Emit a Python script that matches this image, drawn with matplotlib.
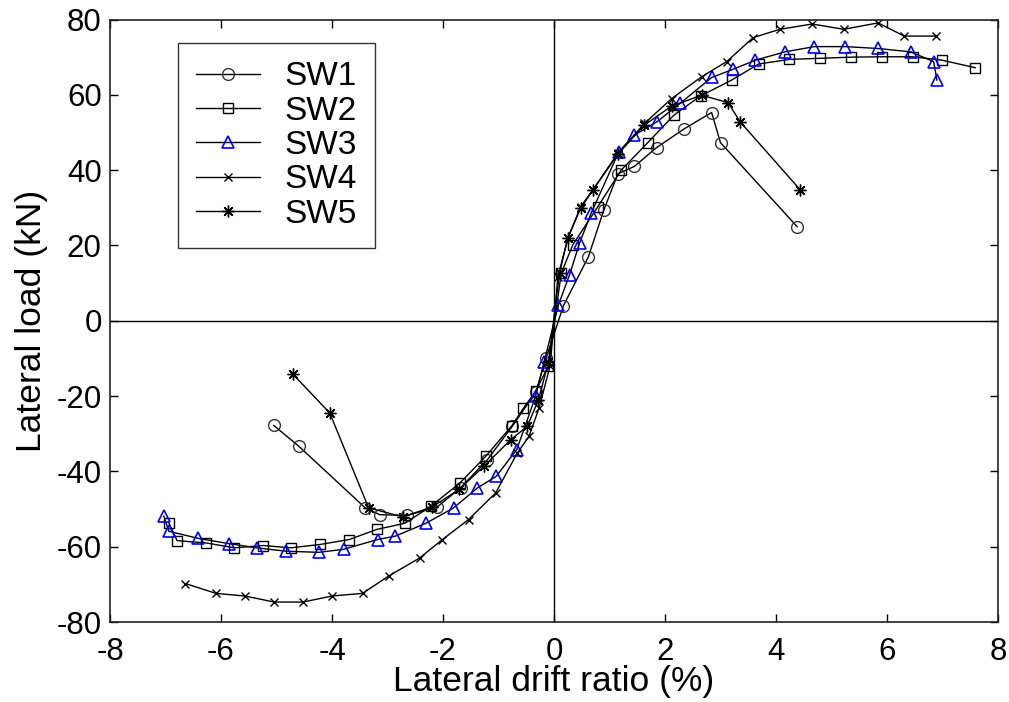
import matplotlib.pyplot as plt

plt.rcParams['font.family'] = ['Liberation Sans', 'DejaVu Sans']
plt.rcParams['axes.unicode_minus'] = False

# Specimen envelopes: lateral drift ratio (%) vs lateral load (kN)
sw1_x = [-5.05, -4.6, -3.4, -3.14, -2.65, -2.1, -1.68, -1.2, -0.75, -0.33, -0.14,
         0.17, 0.62, 0.9, 1.15, 1.45, 1.85, 2.35, 2.84, 3.0, 4.38]
sw1_y = [-27.8, -33.3, -49.7, -51.5, -51.7, -49.4, -44.3, -36.9, -28, -19, -9.8,
         4, 17, 29.5, 39, 41, 46, 51, 55.3, 47.3, 25]

sw2_x = [-6.94, -6.79, -6.27, -5.76, -5.24, -4.74, -4.21, -3.69, -3.19, -2.69, -2.22,
         -1.69, -1.23, -0.76, -0.55, -0.33, -0.1, 0.13, 0.34, 0.79, 1.21, 1.69, 2.16,
         2.64, 3.2, 3.69, 4.24, 4.8, 5.35, 5.91, 6.46, 6.99, 7.59]
sw2_y = [-53.7, -58.4, -59, -60.3, -59.7, -60.3, -59.4, -58.1, -55.4, -53.8, -49.3,
         -43, -36, -27.9, -23.2, -18.7, -12, 12.6, 20.2, 30.3, 40, 47.3, 54.6,
         59.7, 63.9, 68.2, 69.4, 69.7, 70, 70.1, 70.1, 69.2, 67.2]

sw3_x = [-7.03, -6.94, -6.41, -5.85, -5.36, -4.83, -4.24, -3.79, -3.18, -2.86, -2.31,
         -1.81, -1.38, -1.04, -0.67, -0.33, -0.18, 0.08, 0.28, 0.46, 0.67, 1.17, 1.45,
         1.86, 2.27, 2.84, 3.23, 3.63, 4.16, 4.69, 5.25, 5.84, 6.43, 6.84, 6.9]
sw3_y = [-51.9, -55.9, -57.8, -59.2, -60.3, -61.2, -61.5, -60.7, -58.1, -57.2, -53.8,
         -49.7, -44.4, -41.3, -34.2, -20, -11, 4.2, 12.2, 20.6, 28.6, 44.9, 49.3,
         52.9, 57.7, 64.6, 66.8, 69.2, 71.4, 72.8, 72.8, 72.3, 71.4, 68.8, 63.9]

sw4_x = [-6.64, -6.09, -5.57, -5.04, -4.52, -4.0, -3.45, -2.98, -2.42, -2.01, -1.54,
         -1.05, -0.66, -0.45, -0.27, -0.07, 0.07, 0.25, 0.48, 0.7, 1.15, 1.63, 2.12,
         2.66, 3.11, 3.59, 4.07, 4.65, 5.22, 5.84, 6.31, 6.89]
sw4_y = [-69.8, -72.4, -73.1, -74.7, -74.7, -73.1, -72.4, -67.8, -63, -58.1, -52.8,
         -45.7, -35.1, -30.7, -23.2, -12, 11.7, 21.9, 30.3, 34.7, 44.5, 52.4, 59,
         64.8, 68.8, 75.2, 77.4, 78.8, 77.4, 79.1, 75.6, 75.6]

sw5_x = [-4.71, -4.04, -3.34, -2.72, -2.19, -1.71, -1.26, -0.78, -0.48, -0.28, -0.1,
         0.1, 0.25, 0.48, 0.7, 1.15, 1.63, 2.12, 2.66, 3.14, 3.35, 4.44]
sw5_y = [-14.1, -24.5, -49.7, -52.1, -49.4, -44.8, -38.6, -31.6, -28, -21, -11,
         12.7, 22, 29.9, 34.7, 44.2, 52, 57, 59.9, 57.9, 52.9, 34.7]

labels = ['SW1', 'SW2', 'SW3', 'SW4', 'SW5']

fig = plt.figure(figsize=(10.09, 7.02), dpi=100)
ax = fig.add_axes([110 / 1009, 1 - 622 / 702, 888 / 1009, 602.5 / 702])

ax.axhline(0, color='black', lw=1.0, zorder=1)
ax.axvline(0, color='black', lw=1.0, zorder=1)

ax.plot(sw1_x, sw1_y, '-', color='black', lw=1.0, marker='o', ms=8.5,
        mfc='none', mec='#333333', mew=1.0, label=labels[0])
ax.plot(sw2_x, sw2_y, '-', color='black', lw=1.0, marker='s', ms=7.5,
        mfc='none', mec='black', mew=1.0, label=labels[1])
ax.plot(sw3_x, sw3_y, '-', color='black', lw=1.0, marker='^', ms=8.5,
        mfc='none', mec='blue', mew=1.2, label=labels[2])
ax.plot(sw4_x, sw4_y, '-', color='black', lw=1.0, marker='x', ms=5.5,
        mec='black', mew=1.0, label=labels[3])
ax.plot(sw5_x, sw5_y, '-', color='black', lw=1.0, marker=(8, 2, 0), ms=8.5,
        mec='black', mew=1.0, label=labels[4])

ax.set_xlim(-8, 8)
ax.set_ylim(-80, 80)
ax.set_xticks(range(-8, 9, 2))
ax.set_yticks(range(-80, 81, 20))
ax.tick_params(direction='in', length=6, width=1, labelsize=22.5, top=True, right=True)
ax.tick_params(axis='x', pad=11)
ax.tick_params(axis='y', pad=6)
for s in ax.spines.values():
    s.set_linewidth(1.2)
    s.set_color('#222222')

ax.set_xlabel('Lateral drift ratio (%)', fontsize=25.5, labelpad=-2)
ax.set_ylabel('Lateral load (kN)', fontsize=25.5, labelpad=6)

leg = ax.legend(loc='upper left', bbox_to_anchor=(68 / 888, 1 - 23.5 / 602.5),
                fontsize=24, frameon=True, fancybox=False, edgecolor='black',
                handlelength=1.9, handletextpad=0.75, labelspacing=0.1,
                borderpad=0.55, borderaxespad=0)
leg.get_frame().set_linewidth(1.0)

fig.savefig('out.png', dpi=100)
